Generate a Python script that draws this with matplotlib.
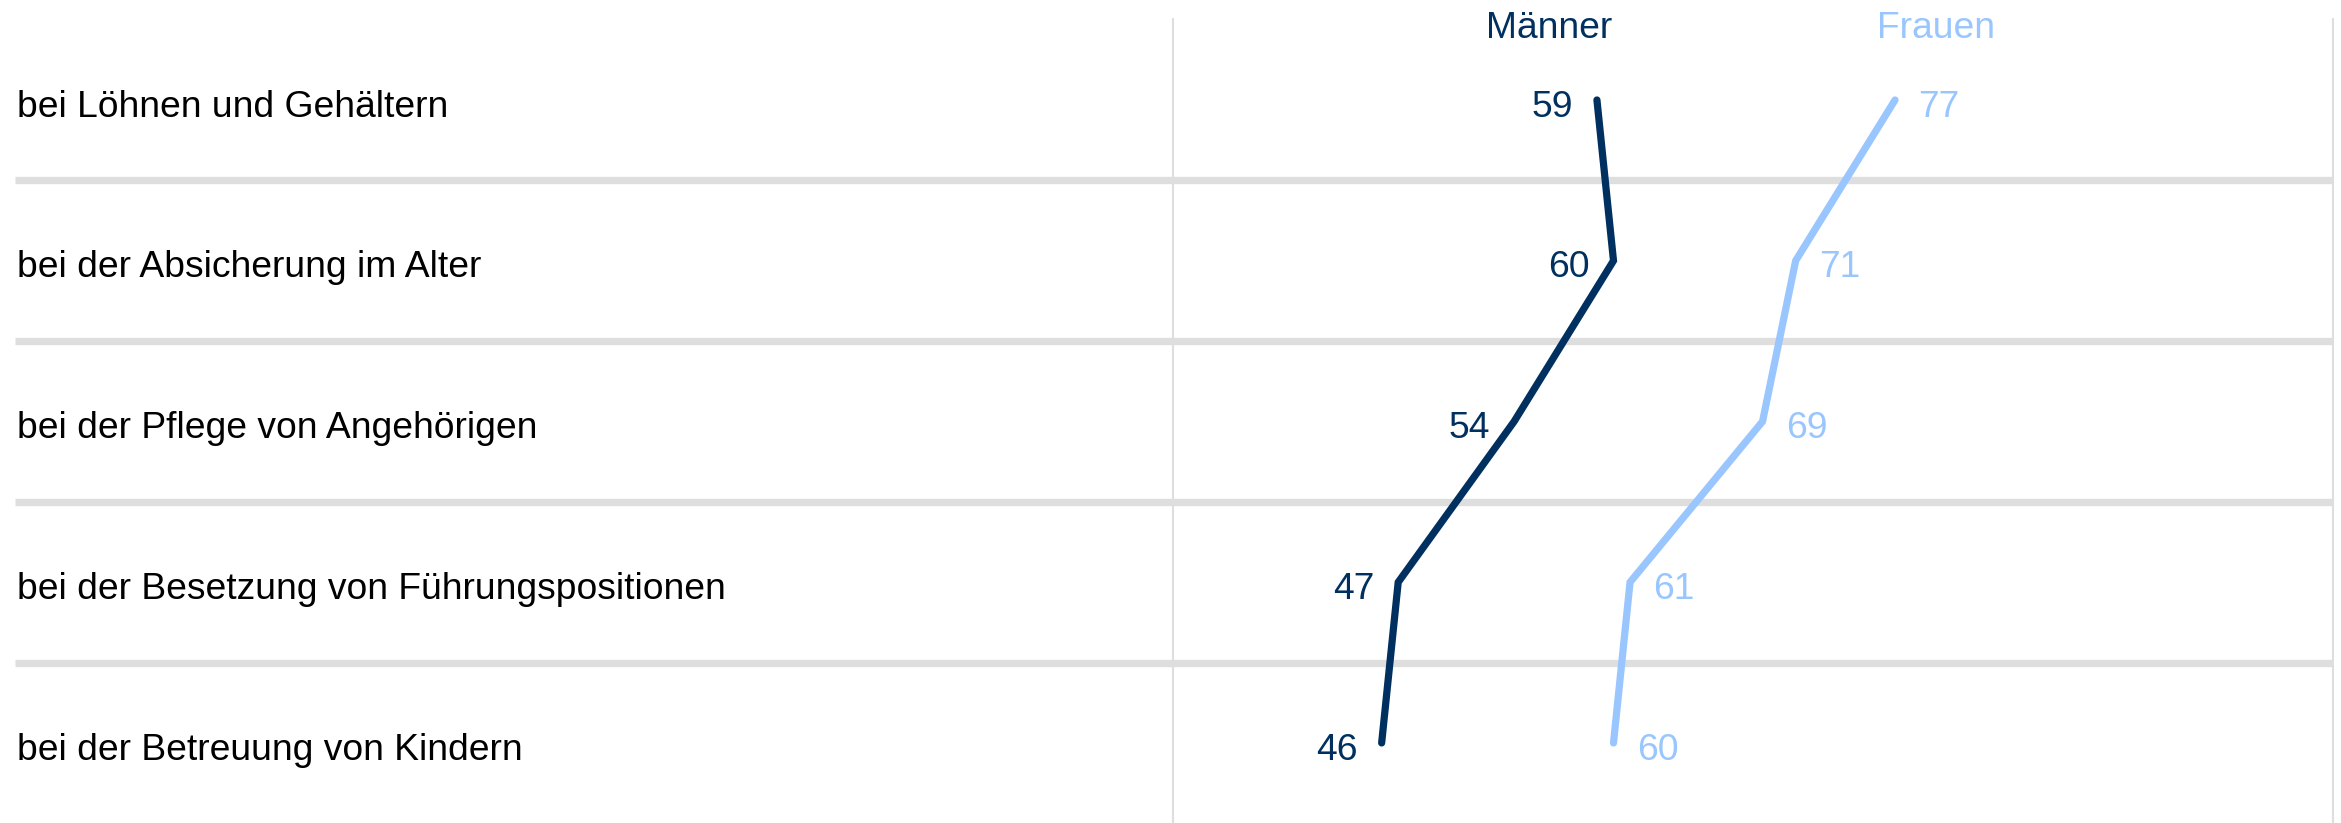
import numpy as np
import matplotlib
matplotlib.use("Agg")
import matplotlib.pyplot as plt

plt.rcParams['font.family'] = ['Liberation Sans', 'DejaVu Sans']

categories = [
    "bei Löhnen und Gehältern",
    "bei der Absicherung im Alter",
    "bei der Pflege von Angehörigen",
    "bei der Besetzung von Führungspositionen",
    "bei der Betreuung von Kindern",
]
men = [59, 60, 54, 47, 46]
women = [77, 71, 69, 61, 60]
series_names = ["Männer", "Frauen"]

men_color = "#00305f"
women_color = "#99c6ff"
grid_color = "#dedede"
fs = 26.8

fig = plt.figure(figsize=(23.41, 8.23), dpi=100)
ax = fig.add_axes([0, 0, 1, 1])
ax.set_xlim(-37.43, 103.93)
ax.set_ylim(4.498, -0.622)
ax.axis('off')

rows = np.arange(len(categories))

# row separators and the two vertical rules
ax.hlines(rows[:-1] + 0.5, -36.53, 103.45, color=grid_color, lw=5.3, capstyle='butt', zorder=1)
ax.vlines([33.43, 103.45], -0.51, 4.498, color=grid_color, lw=1.5, zorder=1)

ax.plot(men, rows, color=men_color, lw=5.2, solid_capstyle='round', solid_joinstyle='miter', zorder=3)
ax.plot(women, rows, color=women_color, lw=5.2, solid_capstyle='round', solid_joinstyle='miter', zorder=3)

for i, cat in enumerate(categories):
    ax.text(-36.43, i + 0.02, cat, fontsize=fs, color="black", ha='left', va='center_baseline')
    ax.text(men[i] - 1.45, i + 0.02, str(men[i]), fontsize=fs, color=men_color, ha='right', va='center_baseline')
    ax.text(women[i] + 1.4, i + 0.02, str(women[i]), fontsize=fs, color=women_color, ha='left', va='center_baseline')

ax.text(56.1, -0.47, series_names[0], fontsize=fs, color=men_color, ha='center', va='center_baseline')
ax.text(79.5, -0.47, series_names[1], fontsize=fs, color=women_color, ha='center', va='center_baseline')

fig.savefig("out.png", dpi=100, facecolor="white")
